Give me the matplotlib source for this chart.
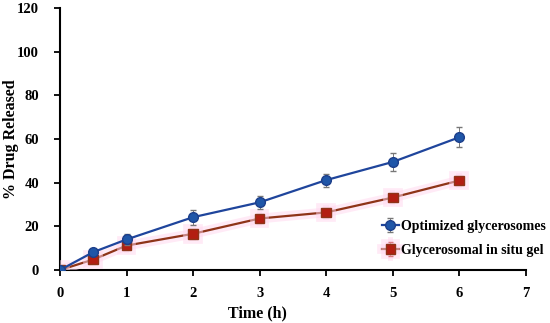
import matplotlib.pyplot as plt
import matplotlib.patheffects as pe

time_h = [0, 0.5, 1, 2, 3, 4, 5, 6]
glycerosomes = [0, 8.2, 14.0, 24.2, 31.0, 41.2, 49.5, 60.8]
glycerosomes_err = [0, 1.5, 2.5, 3.5, 3.0, 3.0, 4.0, 4.5]
in_situ_gel = [0, 4.8, 11.2, 16.6, 23.6, 26.4, 33.2, 41.0]
in_situ_gel_err = [0, 0.8, 1.0, 1.0, 1.2, 1.0, 1.0, 1.0]

plt.rcParams['font.family'] = ['Liberation Serif', 'DejaVu Serif']
plt.rcParams['font.weight'] = 'bold'

fig = plt.figure(figsize=(5.5, 3.23), dpi=100)
ax = fig.add_axes([0.109, 0.164, 0.847, 0.811])

# red series with pink glow behind it
ax.errorbar(time_h, in_situ_gel, yerr=in_situ_gel_err, color='#8e3418', lw=1.6,
            marker='s', ms=7, mfc='#b31e12', mec='#8e3418', ecolor='#b31e12',
            elinewidth=0.7, capsize=2, zorder=3, label='Glycerosomal in situ gel',
            path_effects=[pe.Stroke(linewidth=7, foreground='#ffd6ee', alpha=0.5), pe.Normal()])
ax.errorbar(time_h, glycerosomes, yerr=glycerosomes_err, color='#1f459c', lw=1.6,
            marker='o', ms=7, mfc='#1f56a8', mec='#1d3f8a', ecolor='#777777',
            elinewidth=0.7, capsize=2, zorder=4, label='Optimized glycerosomes')

ax.set_xlim(0, 7)
ax.set_ylim(0, 120)
ax.set_xticks(range(0, 8))
ax.set_yticks(range(0, 121, 20))
ax.tick_params(labelsize=10.5, width=1.3, length=4)
ax.tick_params(axis='y', pad=11)
ax.tick_params(axis='x', pad=8)
for s in ['top', 'right']:
    ax.spines[s].set_visible(False)
for s in ['left', 'bottom']:
    ax.spines[s].set_linewidth(1.5)
ax.set_xlabel('Time (h)', fontsize=11.5, fontweight='bold')
ax.xaxis.set_label_coords(0.425, -0.135)
ax.set_ylabel('% Drug Released', fontsize=11.5, fontweight='bold')
ax.yaxis.set_label_coords(-0.088, 0.5)

h, l = ax.get_legend_handles_labels()
ax.legend(h[::-1], l[::-1], loc='center left', bbox_to_anchor=(0.672, 0.262),
          bbox_transform=fig.transFigure, frameon=False, fontsize=10,
          handlelength=1.2, handletextpad=0.15, labelspacing=0.8)

fig.savefig('out.png', dpi=100)
